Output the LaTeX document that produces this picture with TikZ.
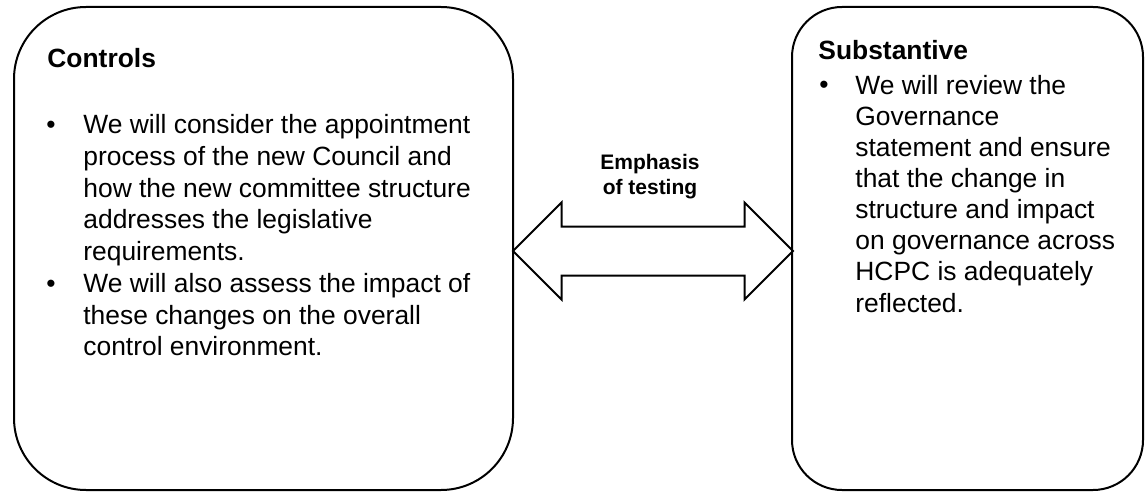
\documentclass[tikz,border=0pt]{standalone}
\usepackage{fontspec}
\setmainfont{Liberation Sans}
\usetikzlibrary{positioning,shapes.arrows}

\begin{document}
\begin{tikzpicture}[x=0.5pt, y=-0.5pt,
  panel/.style={rectangle, draw=black, line width=1pt, minimum height=241.5pt},
  headtxt/.style={font=\fontsize{13.2}{15.8}\selectfont\bfseries, inner sep=0pt, anchor=base west},
  dot/.style={font=\fontsize{13.2}{15.8}\selectfont, inner sep=0pt, anchor=base west},
  body/.style={align=left, inner sep=0pt, anchor=north west},
  twoway/.style={double arrow, draw=black, line width=1pt, inner xsep=0pt, inner ysep=11.75pt,
    minimum height=140pt, minimum width=47.5pt, double arrow head extend=12pt},
  lbl/.style={font=\fontsize{10.5}{12.5}\selectfont\bfseries, align=center, inner sep=0pt}]
\useasboundingbox (0,0) rectangle (1145,492);
% the two boxes
\node[panel, minimum width=249.5pt, rounded corners=36pt] (ctrl) at (263.5,248.5) {};
\node[panel, minimum width=175.5pt, rounded corners=25pt] (subs) at (967.5,248.5) {};
% arrow between them
\node[twoway] (arr) at (653,251) {};
\node[lbl] (emph) at (650,177) {Emphasis\\of testing};
% left box text
\node[headtxt] (ctrlhead) at (47,68) {Controls};
\node[dot] (cb1) at (46,133.5) {\textbullet};
\node[body, font=\fontsize{13.2}{15.85}\selectfont] (ct1) at (83,111.3) {\strut We will consider the appointment\\
  process of the new Council and\\how the new committee structure\\
  addresses the legislative\\requirements.};
\node[dot] (cb2) at (46,292) {\textbullet};
\node[body, font=\fontsize{13.2}{15.85}\selectfont] (ct2) at (83,269.8) {\strut We will also assess the impact of\\
  these changes on the overall\\control environment.};
% right box text
\node[headtxt] (subshead) at (818,60) {Substantive};
\node[dot] (sb1) at (819,94) {\textbullet};
\node[body, font=\fontsize{13.2}{15.55}\selectfont] (st1) at (855,72.2) {\strut We will review the\\Governance\\
  statement and ensure\\that the change in\\structure and impact\\on governance across\\
  HCPC is adequately\\reflected.};
\end{tikzpicture}
\end{document}
